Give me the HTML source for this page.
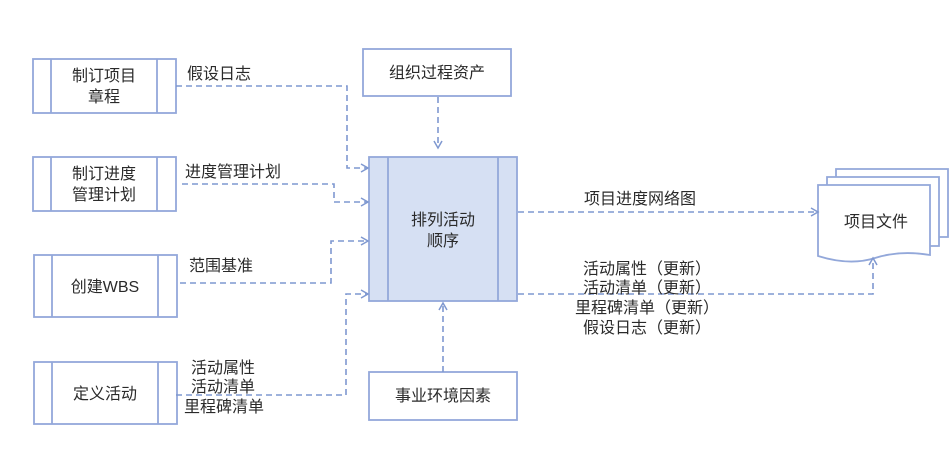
<!DOCTYPE html>
<html><head><meta charset="utf-8"><style>
body{margin:0;background:#fff;}
svg text{font-family:"Liberation Sans","Noto Sans CJK SC",sans-serif;font-size:16px;fill:#2a2a2a;}
</style></head><body>
<svg width="950" height="462" viewBox="0 0 950 462" xmlns="http://www.w3.org/2000/svg">
<defs><marker id="a" markerWidth="10" markerHeight="10" refX="8" refY="5" orient="auto" markerUnits="userSpaceOnUse"><path d="M1,1 L8,5 L1,9" fill="none" stroke="#7f98d0" stroke-width="1.5"/></marker></defs>
<g fill="#fff" stroke="#93a8da" stroke-width="1.8">
<rect x="33" y="59" width="143" height="54"/><line x1="51" y1="59" x2="51" y2="113"/><line x1="157" y1="59" x2="157" y2="113"/>
<rect x="33" y="157" width="143" height="54"/><line x1="51" y1="157" x2="51" y2="211"/><line x1="157" y1="157" x2="157" y2="211"/>
<rect x="34" y="255" width="143" height="62"/><line x1="52" y1="255" x2="52" y2="317"/><line x1="158" y1="255" x2="158" y2="317"/>
<rect x="34" y="362" width="143" height="62"/><line x1="52" y1="362" x2="52" y2="424"/><line x1="158" y1="362" x2="158" y2="424"/>
<rect x="363" y="49" width="148" height="47"/>
<rect x="369" y="372" width="148" height="48"/>
<rect x="369" y="157" width="148" height="144" fill="#d6e0f3"/><line x1="388" y1="157" x2="388" y2="301"/><line x1="498" y1="157" x2="498" y2="301"/>
<path d="M836,169 H948 V237 H836 Z"/>
<path d="M827,177 H939 V246 H827 Z"/>
<path d="M818,185 H930 V255 Q900,250 875,258 Q850,266 818,256 Z"/>
</g>
<g fill="none" stroke="#7f98d0" stroke-width="1.6" stroke-dasharray="6,4">
<path d="M176,86 H347 V168 H368" marker-end="url(#a)"/>
<path d="M182,184 H334 V202 H368" marker-end="url(#a)"/>
<path d="M180,283 H331 V241 H368" marker-end="url(#a)"/>
<path d="M176,395 H346 V294 H368" marker-end="url(#a)"/>
<path d="M438,97 V148" marker-end="url(#a)"/>
<path d="M443,372 V303" marker-end="url(#a)"/>
<path d="M518,212 H818" marker-end="url(#a)"/>
<path d="M518,294 H873 V258" marker-end="url(#a)"/>
</g>
<g text-anchor="middle">
<text x="104" y="81">制订项目</text><text x="104" y="102">章程</text>
<text x="104" y="179">制订进度</text><text x="104" y="200">管理计划</text>
<text x="105" y="292">创建WBS</text>
<text x="105" y="399">定义活动</text>
<text x="437" y="78">组织过程资产</text>
<text x="443" y="401">事业环境因素</text>
<text x="443" y="225">排列活动</text><text x="443" y="246">顺序</text>
<text x="876" y="227">项目文件</text>
<text x="640" y="204">项目进度网络图</text>
<text x="647" y="274">活动属性（更新）</text>
<text x="647" y="293">活动清单（更新）</text>
<text x="647" y="313">里程碑清单（更新）</text>
<text x="647" y="333">假设日志（更新）</text>
</g>
<text x="187" y="79">假设日志</text>
<text x="185" y="177">进度管理计划</text>
<text x="189" y="271">范围基准</text>
<text x="191" y="373">活动属性</text>
<text x="191" y="392">活动清单</text>
<text x="184" y="412">里程碑清单</text>
</svg>
</body></html>
